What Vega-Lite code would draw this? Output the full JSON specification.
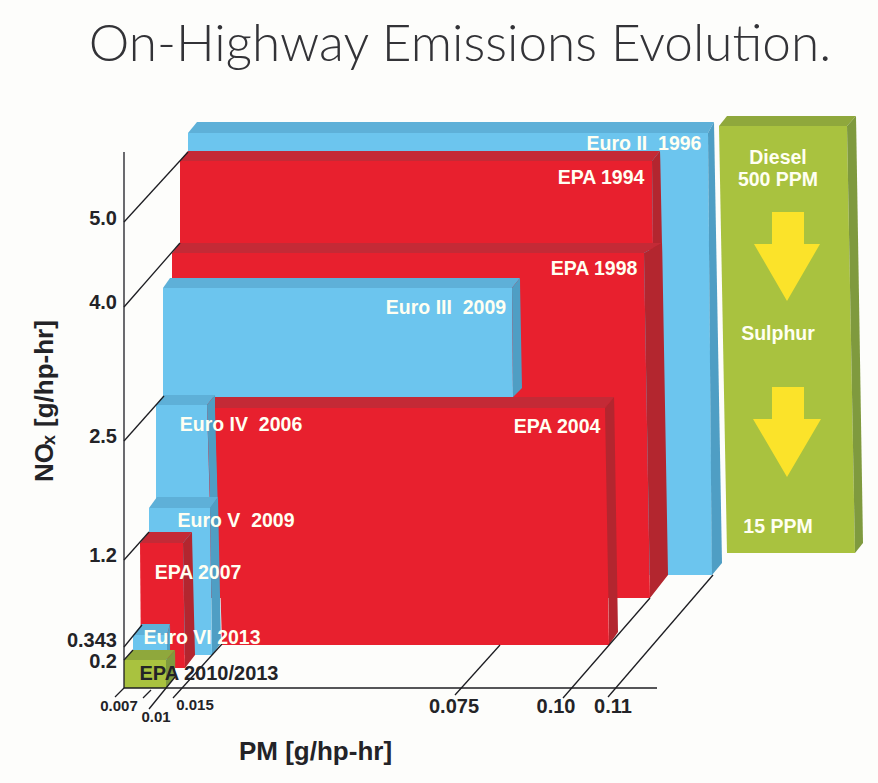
{"$schema":"https://vega.github.io/schema/vega-lite/v6.json","width":878,"height":783,"padding":0,"autosize":{"type":"fit","contains":"padding"},"background":"#fdfdfb","config":{"view":{"stroke":null}},
"layer":[
{"data":{"values":[
{"id":"a0","part":"blue top","u":197,"u2":714,"v":122},{"id":"a0","part":"blue top","u":188,"u2":708,"v":133},
{"id":"a1","part":"blue front","u":188,"u2":708,"v":133},{"id":"a1","part":"blue front","u":188,"u2":712,"v":575},
{"id":"a2","part":"blue side","u":714,"u2":714,"v":122},{"id":"a2","part":"blue side","u":708,"u2":714.2,"v":133},{"id":"a2","part":"blue side","u":711.7,"u2":722,"v":563},{"id":"a2","part":"blue side","u":712,"u2":712,"v":575},
{"id":"b0","part":"red top","u":188,"u2":660,"v":151},{"id":"b0","part":"red top","u":180,"u2":652,"v":161},
{"id":"b1","part":"red front","u":180,"u2":652,"v":161},{"id":"b1","part":"red front","u":180,"u2":653,"v":250},
{"id":"b2","part":"red side","u":660,"u2":660,"v":151},{"id":"b2","part":"red side","u":652,"u2":660.3,"v":161},{"id":"b2","part":"red side","u":653,"u2":662,"v":245},{"id":"b2","part":"red side","u":653,"u2":653,"v":250},
{"id":"c0","part":"red top","u":180,"u2":662,"v":243},{"id":"c0","part":"red top","u":172,"u2":644,"v":253},
{"id":"c1","part":"red front","u":172,"u2":644,"v":253},{"id":"c1","part":"red front","u":172,"u2":650,"v":598},
{"id":"c2","part":"red side","u":662,"u2":662,"v":243},{"id":"c2","part":"red side","u":644,"u2":662.3,"v":253},{"id":"c2","part":"red side","u":649.7,"u2":668,"v":575},{"id":"c2","part":"red side","u":650,"u2":650,"v":598},
{"id":"d0","part":"blue top","u":170,"u2":520,"v":278},{"id":"d0","part":"blue top","u":163,"u2":512,"v":288},
{"id":"d1","part":"blue front","u":163,"u2":512,"v":288},{"id":"d1","part":"blue front","u":163,"u2":513,"v":397},
{"id":"d2","part":"blue side","u":520,"u2":520,"v":278},{"id":"d2","part":"blue side","u":512,"u2":520.1,"v":288},{"id":"d2","part":"blue side","u":513,"u2":522,"v":388},{"id":"d2","part":"blue side","u":513,"u2":513,"v":397},
{"id":"e0","part":"blue top","u":164,"u2":215,"v":395},{"id":"e0","part":"blue top","u":156,"u2":207,"v":405},
{"id":"e1","part":"blue front","u":156,"u2":207,"v":405},{"id":"e1","part":"blue front","u":156,"u2":210,"v":510},
{"id":"e2","part":"blue side","u":215,"u2":215,"v":395},{"id":"e2","part":"blue side","u":207,"u2":215.3,"v":405},{"id":"e2","part":"blue side","u":210,"u2":218,"v":497},{"id":"e2","part":"blue side","u":210,"u2":210,"v":510},
{"id":"f0","part":"red top","u":215,"u2":614,"v":397},{"id":"f0","part":"red top","u":215,"u2":605,"v":408},
{"id":"f1","part":"red front","u":215,"u2":605,"v":408},{"id":"f1","part":"red front","u":222,"u2":609,"v":645},
{"id":"f2","part":"red side","u":614,"u2":614,"v":397},{"id":"f2","part":"red side","u":605,"u2":614.3,"v":408},{"id":"f2","part":"red side","u":609,"u2":618,"v":632},{"id":"f2","part":"red side","u":609,"u2":609,"v":645},
{"id":"g0","part":"blue top","u":157,"u2":218,"v":497},{"id":"g0","part":"blue top","u":149,"u2":210,"v":508},
{"id":"g1","part":"blue front","u":149,"u2":210,"v":508},{"id":"g1","part":"blue front","u":149,"u2":212,"v":655},
{"id":"g2","part":"blue side","u":218,"u2":218,"v":497},{"id":"g2","part":"blue side","u":210,"u2":218.2,"v":508},{"id":"g2","part":"blue side","u":212,"u2":221,"v":643},{"id":"g2","part":"blue side","u":212,"u2":212,"v":655},
{"id":"h0","part":"red top","u":149,"u2":192,"v":532},{"id":"h0","part":"red top","u":140,"u2":183,"v":543},
{"id":"h1","part":"red front","u":140,"u2":183,"v":543},{"id":"h1","part":"red front","u":141,"u2":185,"v":668},
{"id":"h2","part":"red side","u":192,"u2":192,"v":532},{"id":"h2","part":"red side","u":183,"u2":192.2,"v":543},{"id":"h2","part":"red side","u":185,"u2":195,"v":655},{"id":"h2","part":"red side","u":185,"u2":185,"v":668},
{"id":"i0","part":"blue top","u":142,"u2":170,"v":624},{"id":"i0","part":"blue top","u":133,"u2":167,"v":635},
{"id":"i1","part":"blue front","u":133,"u2":167,"v":635},{"id":"i1","part":"blue front","u":133,"u2":167,"v":660},
{"id":"i2","part":"blue side","u":170,"u2":170,"v":624},{"id":"i2","part":"blue side","u":167,"u2":170.2,"v":635},{"id":"i2","part":"blue side","u":167,"u2":170,"v":650},{"id":"i2","part":"blue side","u":167,"u2":167,"v":660},
{"id":"j0","part":"green top","u":133,"u2":175,"v":650},{"id":"j0","part":"green top","u":124,"u2":166,"v":660},
{"id":"j1","part":"green front","u":124,"u2":166,"v":660},{"id":"j1","part":"green front","u":124,"u2":166,"v":688},
{"id":"j2","part":"green side","u":175,"u2":175,"v":650},{"id":"j2","part":"green side","u":166,"u2":175.2,"v":660},{"id":"j2","part":"green side","u":166,"u2":175,"v":677},{"id":"j2","part":"green side","u":166,"u2":166,"v":688},
{"id":"k0","part":"green top","u":727,"u2":856,"v":116},{"id":"k0","part":"green top","u":719,"u2":847,"v":126},
{"id":"k1","part":"green front","u":719,"u2":847,"v":126},{"id":"k1","part":"green front","u":727,"u2":855,"v":553},
{"id":"k2","part":"green side","u":856,"u2":856,"v":116},{"id":"k2","part":"green side","u":847,"u2":856.2,"v":126},{"id":"k2","part":"green side","u":854.8,"u2":863,"v":543},{"id":"k2","part":"green side","u":855,"u2":855,"v":553},
{"id":"m0","part":"arrow","u":772,"u2":804,"v":212},{"id":"m0","part":"arrow","u":772,"u2":804,"v":243.9},{"id":"m0","part":"arrow","u":754,"u2":820,"v":244},{"id":"m0","part":"arrow","u":787,"u2":787,"v":301},
{"id":"n0","part":"arrow","u":772,"u2":804,"v":387},{"id":"n0","part":"arrow","u":772,"u2":804,"v":418.9},{"id":"n0","part":"arrow","u":753,"u2":821,"v":419},{"id":"n0","part":"arrow","u":787,"u2":787,"v":477}
]},
"mark":{"type":"area","orient":"horizontal"},
"encoding":{
"y":{"field":"v","type":"quantitative","scale":{"domain":[0,783],"reverse":true,"nice":false,"zero":false},"axis":null},
"x":{"field":"u","type":"quantitative","stack":null,"scale":{"domain":[0,878],"nice":false,"zero":false},"axis":null},
"x2":{"field":"u2"},
"detail":{"field":"id"},
"color":{"field":"part","type":"nominal","legend":null,"scale":{"domain":["blue front","blue top","blue side","red front","red top","red side","green front","green top","green side","arrow"],"range":["#6cc5ee","#5eb0d8","#4f9ec4","#e8202e","#c42a36","#b3262f","#a9c23f","#8fa83c","#7f9a3e","#fbe32a"]}}}},
{"data":{"values":[
{"u":124,"u2":124,"v":152,"v2":688},{"u":124,"u2":657,"v":688,"v2":688},
{"u":124,"u2":188,"v":222,"v2":152},{"u":124,"u2":180,"v":307,"v2":243},{"u":124,"u2":164,"v":441,"v2":396},{"u":124,"u2":149,"v":560,"v2":532},{"u":124,"u2":142,"v":647,"v2":625},{"u":124,"u2":133,"v":660,"v2":650},
{"u":115,"u2":124,"v":697,"v2":688},{"u":143,"u2":151,"v":698,"v2":690},{"u":149,"u2":175,"v":709,"v2":677},{"u":173,"u2":222,"v":698,"v2":644},
{"u":455,"u2":500,"v":695,"v2":645},{"u":563,"u2":650,"v":698,"v2":598},{"u":608,"u2":713,"v":697,"v2":575}
]},
"mark":{"type":"rule","color":"#1d1d22","strokeWidth":1.3},
"encoding":{"x":{"field":"u","type":"quantitative"},"x2":{"field":"u2"},"y":{"field":"v","type":"quantitative"},"y2":{"field":"v2"}}},
{"data":{"values":[
{"t":"Euro II\u00a0\u00a01996","u":644,"v":144},{"t":"EPA 1994","u":601,"v":178},{"t":"EPA 1998","u":594,"v":269},{"t":"Euro III\u00a0\u00a02009","u":446,"v":308},{"t":"Euro IV\u00a0\u00a02006","u":241,"v":425},{"t":"EPA 2004","u":557,"v":427},{"t":"Euro V\u00a0\u00a02009","u":236,"v":521},{"t":"EPA 2007","u":198,"v":573},{"t":"Euro VI 2013","u":202,"v":638},
{"t":"Diesel","u":778,"v":158},{"t":"500 PPM","u":778,"v":180},{"t":"Sulphur","u":778,"v":334},{"t":"15 PPM","u":778,"v":527}
]},
"mark":{"type":"text","font":"Liberation Sans","fontWeight":"bold","fontSize":19.5,"color":"#fffff2","baseline":"middle","align":"center"},
"encoding":{"x":{"field":"u","type":"quantitative"},"y":{"field":"v","type":"quantitative"},"text":{"field":"t"}}},
{"data":{"values":[
{"t":"EPA 2010/2013","u":209,"v":674},{"t":"0.075","u":454,"v":707},{"t":"0.10","u":556,"v":707},{"t":"0.11","u":613,"v":707}
]},
"mark":{"type":"text","font":"Liberation Sans","fontWeight":"bold","fontSize":20,"color":"#232327","baseline":"middle","align":"center"},
"encoding":{"x":{"field":"u","type":"quantitative"},"y":{"field":"v","type":"quantitative"},"text":{"field":"t"}}},
{"data":{"values":[
{"t":"5.0","u":117,"v":219},{"t":"4.0","u":117,"v":303},{"t":"2.5","u":117,"v":437},{"t":"1.2","u":117,"v":556},{"t":"0.343","u":117,"v":641},{"t":"0.2","u":117,"v":662}
]},
"mark":{"type":"text","font":"Liberation Sans","fontWeight":"bold","fontSize":20,"color":"#232327","baseline":"middle","align":"right"},
"encoding":{"x":{"field":"u","type":"quantitative"},"y":{"field":"v","type":"quantitative"},"text":{"field":"t"}}},
{"data":{"values":[
{"t":"0.007","u":119,"v":706},{"t":"0.01","u":156,"v":717},{"t":"0.015","u":195,"v":705}
]},
"mark":{"type":"text","font":"Liberation Sans","fontWeight":"bold","fontSize":15,"color":"#232327","baseline":"middle","align":"center"},
"encoding":{"x":{"field":"u","type":"quantitative"},"y":{"field":"v","type":"quantitative"},"text":{"field":"t"}}},
{"data":{"values":[{"t":"PM [g/hp-hr]","u":315.5,"v":752}]},
"mark":{"type":"text","font":"Liberation Sans","fontWeight":"bold","fontSize":26,"color":"#232327","baseline":"middle","align":"center"},
"encoding":{"x":{"field":"u","type":"quantitative"},"y":{"field":"v","type":"quantitative"},"text":{"field":"t"}}},
{"data":{"values":[{"t":"NO","u":45,"v":482},{"t":"[g/hp-hr]","u":45,"v":427}]},
"mark":{"type":"text","font":"Liberation Sans","fontWeight":"bold","fontSize":26,"angle":270,"color":"#232327","baseline":"middle","align":"left"},
"encoding":{"x":{"field":"u","type":"quantitative"},"y":{"field":"v","type":"quantitative"},"text":{"field":"t"}}},
{"data":{"values":[{"t":"x","u":50,"v":445}]},
"mark":{"type":"text","font":"Liberation Sans","fontWeight":"bold","fontSize":18,"angle":270,"color":"#232327","baseline":"middle","align":"left"},
"encoding":{"x":{"field":"u","type":"quantitative"},"y":{"field":"v","type":"quantitative"},"text":{"field":"t"}}},
{"data":{"values":[{"t":"On-Highway Emissions Evolution.","u":460,"v":46}]},
"mark":{"type":"text","font":"Lato","fontWeight":300,"fontSize":51.3,"color":"#333337","baseline":"middle","align":"center"},
"encoding":{"x":{"field":"u","type":"quantitative"},"y":{"field":"v","type":"quantitative"},"text":{"field":"t"}}}
]}
